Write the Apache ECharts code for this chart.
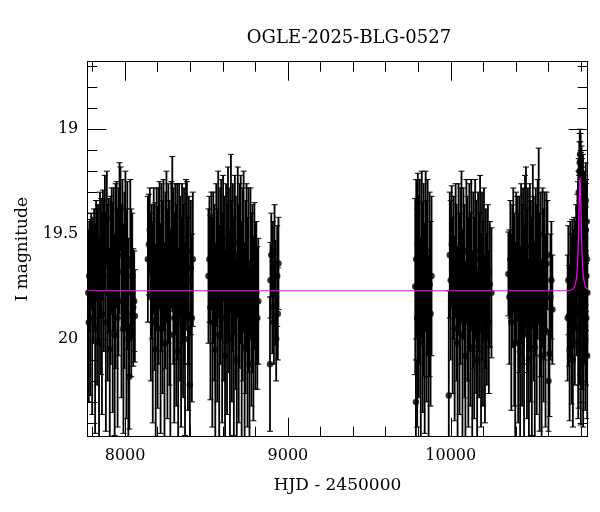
<!DOCTYPE html>
<html><head><meta charset="utf-8">
<script src="https://cdn.jsdelivr.net/npm/echarts@6/dist/echarts.min.js"></script>
<style>html,body{margin:0;padding:0;background:#fff}#c{width:600px;height:512px}</style>
</head><body><div id="c"></div>
<script>
// [HJD-2450000, I mag, error]
const season1 = [[7774,19.78,0.30],[7777,19.92,0.38],[7780,19.70,0.26],[7786,19.85,0.42],[7792,19.62,0.22],[7798,19.90,0.46],[7804,19.72,0.30],[7810,19.66,0.28],[7816,19.95,0.50],[7822,19.58,0.24],[7828,19.80,0.42],[7834,19.68,0.32],[7840,20.02,0.50],[7846,19.60,0.30],[7852,19.75,0.42],[7858,19.88,0.48],[7864,19.55,0.26],[7870,19.70,0.36],[7876,19.50,0.28],[7882,19.92,0.52],[7888,19.42,0.22],[7894,19.78,0.42],[7900,19.65,0.32],[7906,20.05,0.48],[7912,19.72,0.40],[7918,19.58,0.30],[7924,19.85,0.50],[7930,19.62,0.34],[7936,19.98,0.48],[7942,19.70,0.44],[7948,19.55,0.30],[7954,19.90,0.52],[7960,19.68,0.40],[7966,19.52,0.36],[7972,19.38,0.20],[7978,19.82,0.46],[7984,19.60,0.36],[7990,19.95,0.50],[7996,19.72,0.42],[8002,19.58,0.38],[8008,19.88,0.50],[8014,19.65,0.40],[8020,20.00,0.48],[8026,20.18,0.25],[8032,19.62,0.38],[8038,19.78,0.40],[8044,19.70,0.30],[8050,19.85,0.28],[8056,19.82,0.24],[8060,19.89,0.22]];
const season2 = [[8140,19.62,0.30],[8146,19.55,0.24],[8152,19.48,0.20],[8158,19.80,0.40],[8164,19.68,0.32],[8170,19.92,0.48],[8176,19.58,0.30],[8182,19.75,0.40],[8188,20.05,0.50],[8194,19.62,0.34],[8200,19.85,0.48],[8206,19.70,0.42],[8212,19.55,0.30],[8218,19.95,0.50],[8224,19.66,0.40],[8230,19.80,0.46],[8236,19.60,0.36],[8242,20.02,0.48],[8248,19.72,0.42],[8254,19.56,0.36],[8260,19.88,0.50],[8266,19.64,0.38],[8272,19.78,0.44],[8278,19.98,0.50],[8284,19.55,0.30],[8290,19.50,0.37],[8296,19.70,0.42],[8302,19.90,0.50],[8308,19.62,0.36],[8314,19.84,0.48],[8320,19.68,0.42],[8326,20.06,0.48],[8332,19.58,0.32],[8338,19.76,0.44],[8344,19.92,0.50],[8350,19.64,0.38],[8356,19.82,0.46],[8362,19.70,0.42],[8368,20.00,0.46],[8374,19.60,0.36],[8380,19.58,0.33],[8386,19.88,0.46],[8392,19.72,0.40],[8398,20.22,0.28],[8404,19.66,0.32],[8410,19.90,0.40],[8416,19.62,0.32]];
const season3 = [[8512,19.70,0.32],[8518,19.62,0.30],[8524,19.85,0.44],[8530,19.58,0.28],[8536,19.92,0.50],[8542,19.66,0.36],[8548,19.78,0.42],[8554,20.05,0.50],[8560,19.60,0.34],[8566,19.84,0.46],[8572,19.55,0.35],[8578,19.98,0.52],[8584,19.70,0.42],[8590,19.62,0.38],[8596,19.90,0.50],[8602,19.52,0.30],[8608,19.76,0.44],[8614,20.08,0.50],[8620,19.64,0.38],[8626,19.86,0.50],[8632,19.58,0.40],[8638,19.72,0.44],[8644,20.00,0.52],[8650,19.50,0.38],[8656,19.82,0.48],[8662,19.66,0.40],[8668,19.94,0.52],[8674,19.60,0.38],[8680,19.78,0.46],[8686,20.10,0.48],[8692,19.54,0.36],[8698,19.88,0.52],[8704,19.70,0.44],[8710,19.62,0.40],[8716,19.96,0.52],[8722,19.74,0.46],[8728,19.58,0.38],[8734,20.04,0.50],[8740,19.80,0.46],[8746,19.66,0.40],[8752,19.92,0.50],[8758,19.72,0.44],[8764,20.12,0.46],[8770,19.64,0.36],[8776,19.86,0.46],[8782,19.76,0.40],[8788,19.95,0.44],[8794,19.70,0.35],[8800,19.84,0.40],[8806,19.78,0.34],[8812,19.90,0.34],[8818,19.82,0.30]];
const season4 = [[8890,20.12,0.32],[8893,19.72,0.18],[8898,19.60,0.20],[8904,19.85,0.22],[8908,19.66,0.22],[8914,19.92,0.20],[8918,19.58,0.22],[8924,19.78,0.25],[8928,20.00,0.20],[8934,19.70,0.24],[8938,19.88,0.22],[8942,19.64,0.22]];
const season5 = [[9782,19.75,0.42],[9786,20.30,0.20],[9788,19.62,0.38],[9794,19.90,0.52],[9798,19.55,0.34],[9804,19.80,0.48],[9810,19.68,0.44],[9816,20.02,0.50],[9822,19.60,0.40],[9828,19.85,0.50],[9834,19.72,0.46],[9840,19.95,0.50],[9846,19.58,0.38],[9852,19.82,0.48],[9858,19.66,0.42],[9864,20.06,0.46],[9870,19.74,0.44],[9876,19.88,0.44],[9882,19.70,0.38]];
const season6 = [[9988,20.27,0.50],[9994,19.60,0.30],[10000,19.72,0.38],[10006,19.55,0.28],[10012,19.84,0.42],[10018,19.66,0.34],[10024,19.95,0.44],[10030,19.58,0.32],[10036,19.78,0.42],[10042,20.02,0.46],[10048,19.62,0.36],[10054,19.88,0.48],[10060,19.70,0.42],[10066,19.56,0.36],[10072,19.98,0.50],[10078,19.64,0.36],[10084,19.82,0.46],[10090,20.08,0.44],[10096,19.58,0.34],[10102,19.76,0.44],[10108,19.92,0.50],[10114,19.66,0.40],[10120,19.86,0.46],[10126,19.60,0.36],[10132,20.04,0.46],[10138,19.72,0.42],[10144,19.90,0.48],[10150,19.62,0.38],[10156,19.80,0.46],[10162,20.10,0.42],[10168,19.68,0.38],[10174,19.84,0.44],[10180,19.58,0.36],[10186,19.96,0.46],[10192,19.70,0.40],[10198,19.88,0.44],[10204,19.64,0.36],[10210,20.00,0.40],[10216,19.76,0.38],[10222,19.86,0.36],[10228,19.68,0.32],[10234,19.92,0.34],[10240,19.74,0.30],[10250,19.78,0.31]];
const season7 = [[10354,19.69,0.20],[10360,19.80,0.32],[10366,19.62,0.28],[10372,19.92,0.42],[10378,19.70,0.34],[10384,19.58,0.30],[10390,19.86,0.46],[10396,20.02,0.48],[10402,19.66,0.36],[10408,19.60,0.28],[10414,19.90,0.50],[10420,19.74,0.42],[10426,20.06,0.50],[10432,19.64,0.38],[10438,19.84,0.48],[10444,19.70,0.42],[10450,19.98,0.52],[10456,19.60,0.38],[10462,19.56,0.38],[10468,19.88,0.50],[10474,19.72,0.44],[10480,20.10,0.48],[10486,19.66,0.40],[10492,19.82,0.48],[10498,19.94,0.52],[10504,19.55,0.38],[10510,19.76,0.44],[10516,20.04,0.50],[10522,19.68,0.40],[10528,19.86,0.50],[10534,19.62,0.38],[10540,19.50,0.41],[10546,19.92,0.52],[10552,19.74,0.44],[10558,20.08,0.46],[10564,19.66,0.38],[10570,19.84,0.46],[10576,19.70,0.40],[10582,19.96,0.46],[10588,19.64,0.34],[10594,19.60,0.26],[10600,20.20,0.24],[10606,20.07,0.30],[10612,19.80,0.30],[10618,19.72,0.28],[10624,19.86,0.26]];
const season8 = [[10718,19.90,0.30],[10722,19.72,0.26],[10726,19.89,0.24],[10730,20.05,0.34],[10734,19.66,0.22],[10738,19.80,0.30],[10742,19.95,0.36],[10746,19.70,0.27],[10750,20.10,0.32],[10754,19.76,0.28],[10758,19.62,0.20],[10762,19.88,0.34],[10766,19.70,0.26],[10770,19.58,0.22],[10774,19.78,0.30],[10778,19.55,0.24],[10781,19.45,0.20],[10783,20.02,0.36],[10784,19.38,0.18],[10785,19.95,0.38],[10786,19.30,0.16],[10788,19.42,0.20],[10789,19.88,0.34],[10790,19.20,0.14],[10792,19.16,0.14],[10793,19.85,0.32],[10794,19.12,0.12],[10795,19.60,0.26],[10796,19.20,0.14],[10798,19.15,0.13],[10799,20.05,0.36],[10800,19.26,0.15],[10802,19.70,0.28],[10803,19.22,0.14],[10806,19.30,0.16],[10807,19.90,0.34],[10809,19.35,0.17],[10810,19.62,0.26],[10812,19.28,0.16],[10813,20.10,0.32],[10815,19.40,0.18],[10817,19.70,0.30],[10818,19.46,0.20],[10820,19.80,0.32],[10821,19.38,0.18],[10823,19.58,0.24],[10824,19.52,0.22],[10826,20.00,0.34],[10827,19.60,0.24],[10829,19.34,0.18],[10830,19.48,0.22],[10832,19.90,0.32],[10833,19.70,0.26],[10835,19.44,0.20],[10836,19.62,0.25],[10838,20.08,0.30],[10839,19.78,0.30]];
// model light curve [HJD-2450000, I mag]
const modelCurve = [[7768,19.77],[10700,19.77],[10736,19.768],[10751,19.762],[10759,19.752],[10767,19.735],[10774,19.70],[10778,19.65],[10781.5,19.59],[10784,19.53],[10787,19.43],[10790,19.33],[10792,19.26],[10794,19.23],[10796,19.26],[10798,19.33],[10801,19.43],[10804,19.53],[10806.5,19.59],[10810,19.65],[10814,19.70],[10821,19.735],[10829,19.752],[10837,19.762],[10841,19.765]];
const xMajorTicks = [8000, 9000, 10000];
const xMinorTicks = [7800,8000,8200,8400,8600,8800,9000,9200,9400,9600,9800,10000,10200,10400,10600,10800];
const yMajorTicks = [19, 19.5, 20];
const yMinorTicks = [18.7,18.8,18.9,19.0,19.1,19.2,19.3,19.4,19.5,19.6,19.7,19.8,19.9,20.0,20.1,20.2,20.3,20.4];

const allPoints = [].concat(season1, season2, season3, season4, season5, season6, season7, season8);
const FONT = 'DejaVu Serif';
const X_MIN = 7768, X_MAX = 10841, Y_MIN = 18.678, Y_MAX = 20.466;

function xAx(position, ticks, len, showLine, showLabel, extra) {
  return Object.assign({
    type: 'value', min: X_MIN, max: X_MAX, position: position,
    axisLine: {show: showLine, onZero: false, lineStyle: {color: '#000', width: 1}},
    axisTick: {show: true, inside: true, length: len, customValues: ticks, lineStyle: {color: '#000', width: 1}},
    axisLabel: {show: showLabel, customValues: ticks, formatter: v => String(v), color: '#000', fontFamily: FONT, fontSize: 16, margin: 11},
    splitLine: {show: false}
  }, extra || {});
}
function yAx(position, ticks, len, showLine, showLabel, extra) {
  return Object.assign({
    type: 'value', min: Y_MIN, max: Y_MAX, inverse: true, position: position,
    axisLine: {show: showLine, onZero: false, lineStyle: {color: '#000', width: 1}},
    axisTick: {show: true, inside: true, length: len, customValues: ticks, lineStyle: {color: '#000', width: 1}},
    axisLabel: {show: showLabel, customValues: ticks, formatter: v => String(v), color: '#000', fontFamily: FONT, fontSize: 16, margin: 9},
    splitLine: {show: false}
  }, extra || {});
}

const chart = echarts.init(document.getElementById('c'), null, {renderer: 'canvas'});
chart.setOption({
  animation: false,
  backgroundColor: '#fff',
  title: {text: 'OGLE-2025-BLG-0527', left: 344, top: 24, textAlign: 'center',
    textStyle: {fontFamily: FONT, fontSize: 18, fontWeight: 'normal', color: '#000'}},
  grid: {left: 87.3, right: 12.3, top: 61.7, bottom: 75.3, containLabel: false, outerBoundsMode: 'none'},
  xAxis: [
    xAx('bottom', xMajorTicks, 19, true, true, {name: 'HJD - 2450000', nameLocation: 'middle', nameGap: 40,
      nameTextStyle: {fontFamily: FONT, fontSize: 17, color: '#000'}}),
    xAx('bottom', xMinorTicks, 10, false, false),
    xAx('top', xMajorTicks, 19, true, false),
    xAx('top', xMinorTicks, 10, false, false)
  ],
  yAxis: [
    yAx('left', yMajorTicks, 19, true, true, {name: 'I magnitude', nameLocation: 'middle', nameGap: 56, nameRotate: 90,
      nameTextStyle: {fontFamily: FONT, fontSize: 17, color: '#000'}}),
    yAx('left', yMinorTicks, 10, false, false),
    yAx('right', yMajorTicks, 19, true, false),
    yAx('right', yMinorTicks, 10, false, false)
  ],
  series: [
    {
      type: 'custom', xAxisIndex: 0, yAxisIndex: 0, clip: true, z: 2,
      data: allPoints,
      encode: {x: 0, y: 1},
      renderItem: function (params, api) {
        const t = api.value(0), m = api.value(1), e = api.value(2);
        const a = api.coord([t, m - e]);
        const b = api.coord([t, m + e]);
        const w = 3;
        const cap = {stroke: '#000', lineWidth: 1};
        return {type: 'group', children: [
          {type: 'line', shape: {x1: a[0], y1: a[1], x2: b[0], y2: b[1]}, style: {stroke: '#000', lineWidth: 1.8}},
          {type: 'line', shape: {x1: a[0] - w, y1: a[1], x2: a[0] + w, y2: a[1]}, style: cap},
          {type: 'line', shape: {x1: b[0] - w, y1: b[1], x2: b[0] + w, y2: b[1]}, style: cap}
        ]};
      }
    },
    {
      type: 'scatter', xAxisIndex: 0, yAxisIndex: 0, clip: true, z: 3,
      data: allPoints.map(p => [p[0], p[1]]),
      symbol: 'circle', symbolSize: 6.5,
      itemStyle: {color: '#000'}
    },
    {
      type: 'line', xAxisIndex: 0, yAxisIndex: 0, z: 5, clip: true,
      data: modelCurve, showSymbol: false, symbol: 'none', smooth: false,
      lineStyle: {color: '#ff00ff', width: 1.2}
    }
  ]
});
</script>
</body></html>
